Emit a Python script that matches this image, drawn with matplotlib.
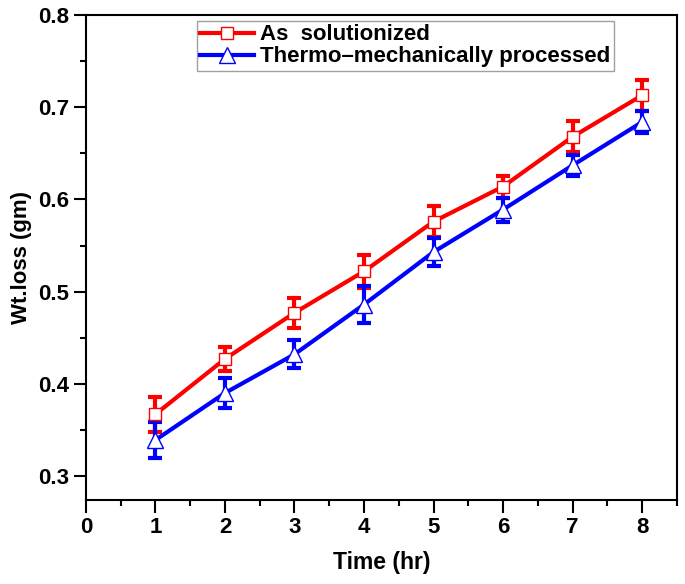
import matplotlib.pyplot as plt
from matplotlib.ticker import MultipleLocator

plt.rcParams['font.family'] = ['Liberation Sans', 'DejaVu Sans']
plt.rcParams['font.weight'] = 'bold'

time_hr = [1, 2, 3, 4, 5, 6, 7, 8]
as_sol = [0.367, 0.427, 0.477, 0.522, 0.576, 0.614, 0.668, 0.713]
as_sol_err = [0.019, 0.013, 0.016, 0.018, 0.017, 0.012, 0.017, 0.017]
tmp = [0.339, 0.390, 0.432, 0.486, 0.543, 0.589, 0.637, 0.684]
tmp_err = [0.020, 0.016, 0.015, 0.020, 0.015, 0.013, 0.011, 0.012]

fig = plt.figure(figsize=(6.85, 5.84), dpi=100)
ax = fig.add_axes([0.1255, 0.144, 0.8625, 0.83])

# error bars first, then lines + open markers on top
ax.errorbar(time_hr, as_sol, yerr=as_sol_err, fmt='none', ecolor='#ff0000',
            capsize=5, capthick=3, elinewidth=3)
ax.errorbar(time_hr, tmp, yerr=tmp_err, fmt='none', ecolor='#0000ff',
            capsize=5, capthick=3, elinewidth=3)
ax.plot(time_hr, as_sol, color='#ff0000', lw=3, marker='s', ms=9,
        mfc='white', mec='#ff0000', mew=1, label='As  solutionized')
ax.plot(time_hr, tmp, color='#0000ff', lw=3, marker='^', ms=11,
        mfc='white', mec='#0000ff', mew=1,
        label='Thermo\u2013mechanically processed')

ax.set_xlim(0, 8.5)
ax.set_ylim(0.274, 0.8)
ax.xaxis.set_major_locator(MultipleLocator(1))
ax.xaxis.set_minor_locator(MultipleLocator(0.5))
ax.yaxis.set_major_locator(MultipleLocator(0.1))
ax.yaxis.set_minor_locator(MultipleLocator(0.05))
ax.tick_params(which='major', direction='out', length=9, width=1.5, labelsize=16, pad=3)
ax.tick_params(which='minor', direction='out', length=4.5, width=1.5)
for s in ax.spines.values():
    s.set_linewidth(1.5)

ax.set_xlabel('Time (hr)', fontsize=16.5, fontweight='bold')
ax.set_ylabel('Wt.loss (gm)', fontsize=16, fontweight='bold')
ax.xaxis.set_label_coords(0.5, -0.105)
ax.yaxis.set_label_coords(-0.092, 0.5)

leg = ax.legend(loc='upper left', bbox_to_anchor=(0.188, 0.988), fontsize=16,
                frameon=True, fancybox=False, edgecolor='#888888',
                handlelength=2.4, borderpad=0.15, labelspacing=0.05,
                handletextpad=0.3, borderaxespad=0)
leg.get_frame().set_linewidth(1)

fig.savefig('out.png', dpi=100)
